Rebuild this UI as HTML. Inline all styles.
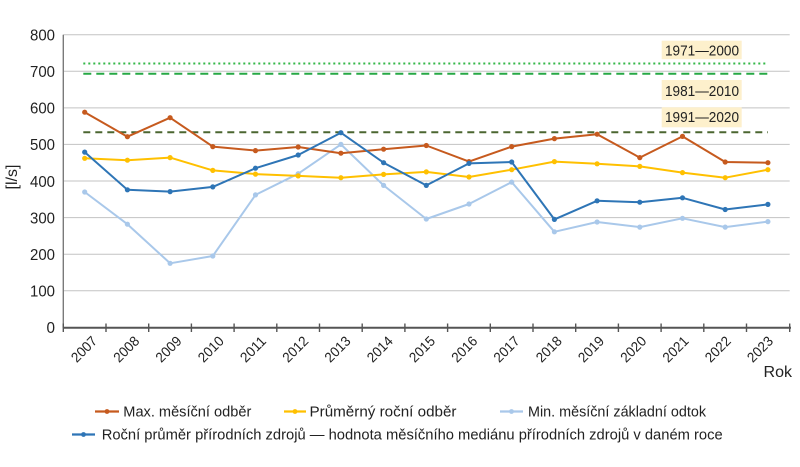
<!DOCTYPE html>
<html><head><meta charset="utf-8"><style>
html,body{margin:0;padding:0;background:#fff;}
svg{display:block;}
text{font-family:"Liberation Sans",sans-serif;fill:#222;}
</style></head><body>
<svg width="800" height="467" viewBox="0 0 800 467" xmlns="http://www.w3.org/2000/svg">
<rect width="800" height="467" fill="#fff"/>
<!-- gridlines -->
<g stroke="#c3c3c3" stroke-width="1">
<line x1="63.3" x2="789.7" y1="34.7" y2="34.7"/>
<line x1="63.3" x2="789.7" y1="71.3" y2="71.3"/>
<line x1="63.3" x2="789.7" y1="107.9" y2="107.9"/>
<line x1="63.3" x2="789.7" y1="144.4" y2="144.4"/>
<line x1="63.3" x2="789.7" y1="181.0" y2="181.0"/>
<line x1="63.3" x2="789.7" y1="217.6" y2="217.6"/>
<line x1="63.3" x2="789.7" y1="254.2" y2="254.2"/>
<line x1="63.3" x2="789.7" y1="290.7" y2="290.7"/>
</g>
<!-- y axis -->
<line x1="63.3" x2="63.3" y1="34.7" y2="328" stroke="#7a7a7a" stroke-width="1.4"/>
<!-- y tick labels -->
<g font-size="16" text-anchor="end">
<text x="55" y="40.5" textLength="25" lengthAdjust="spacingAndGlyphs">800</text>
<text x="55" y="77.1" textLength="25" lengthAdjust="spacingAndGlyphs">700</text>
<text x="55" y="113.7" textLength="25" lengthAdjust="spacingAndGlyphs">600</text>
<text x="55" y="150.2" textLength="25" lengthAdjust="spacingAndGlyphs">500</text>
<text x="55" y="186.8" textLength="25" lengthAdjust="spacingAndGlyphs">400</text>
<text x="55" y="223.4" textLength="25" lengthAdjust="spacingAndGlyphs">300</text>
<text x="55" y="260" textLength="25" lengthAdjust="spacingAndGlyphs">200</text>
<text x="55" y="296.5" textLength="25" lengthAdjust="spacingAndGlyphs">100</text>
<text x="55" y="333.1" textLength="8.5" lengthAdjust="spacingAndGlyphs">0</text>
</g>
<text x="17" y="177" font-size="16" text-anchor="middle" transform="rotate(-90 17 177)">[l/s]</text>
<!-- reference lines -->
<line x1="83.3" x2="768" y1="63.5" y2="63.5" stroke="#34b848" stroke-width="2" stroke-dasharray="2 3"/>
<line x1="83.3" x2="768" y1="73.7" y2="73.7" stroke="#27a845" stroke-width="2" stroke-dasharray="8 5"/>
<line x1="83.3" x2="768" y1="132.3" y2="132.3" stroke="#4b6630" stroke-width="2" stroke-dasharray="7 5"/>
<!-- annotation boxes -->
<rect x="661.7" y="40.7" width="80" height="18.5" fill="#fdf0cc"/>
<text x="665" y="55.5" font-size="15" textLength="74" lengthAdjust="spacingAndGlyphs">1971—2000</text>
<rect x="661.7" y="80" width="80" height="20" fill="#fdf0cc"/>
<text x="665" y="95.8" font-size="15" textLength="74" lengthAdjust="spacingAndGlyphs">1981—2010</text>
<rect x="661.7" y="107.3" width="80" height="20" fill="#fdf0cc"/>
<text x="665" y="122.1" font-size="15" textLength="74" lengthAdjust="spacingAndGlyphs">1991—2020</text>
<!-- series -->
<g fill="none" stroke-width="2" stroke-linejoin="round">
<polyline stroke="#a9c8ea" points="84.7,192.0 127.4,224.2 170.1,263.3 212.8,256.0 255.5,194.9 298.2,173.7 340.9,144.4 383.6,185.4 426.3,219.0 469.0,204.0 511.7,182.1 554.4,231.8 597.1,222.0 639.8,227.1 682.5,218.3 725.2,227.1 767.9,221.6"/>
<polyline stroke="#ffc000" points="84.7,158.3 127.4,160.2 170.1,157.6 212.8,170.4 255.5,174.1 298.2,175.9 340.9,177.7 383.6,174.4 426.3,171.9 469.0,177.0 511.7,169.7 554.4,161.6 597.1,163.8 639.8,166.4 682.5,172.6 725.2,177.7 767.9,169.7"/>
<polyline stroke="#c65a1e" points="84.7,112.2 127.4,136.7 170.1,117.7 212.8,146.6 255.5,150.6 298.2,147.0 340.9,153.2 383.6,149.2 426.3,145.5 469.0,161.6 511.7,146.6 554.4,138.6 597.1,134.2 639.8,157.6 682.5,136.4 725.2,162.0 767.9,162.7"/>
<polyline stroke="#2e75b6" points="84.7,152.1 127.4,189.8 170.1,191.6 212.8,186.9 255.5,168.2 298.2,155.0 340.9,132.7 383.6,162.7 426.3,185.4 469.0,163.4 511.7,162.0 554.4,219.4 597.1,200.8 639.8,202.2 682.5,197.8 725.2,209.5 767.9,204.4"/>
</g>
<g fill="#a9c8ea">
<circle cx="84.7" cy="192.0" r="2.6"/><circle cx="127.4" cy="224.2" r="2.6"/><circle cx="170.1" cy="263.3" r="2.6"/><circle cx="212.8" cy="256.0" r="2.6"/><circle cx="255.5" cy="194.9" r="2.6"/><circle cx="298.2" cy="173.7" r="2.6"/><circle cx="340.9" cy="144.4" r="2.6"/><circle cx="383.6" cy="185.4" r="2.6"/><circle cx="426.3" cy="219.0" r="2.6"/><circle cx="469.0" cy="204.0" r="2.6"/><circle cx="511.7" cy="182.1" r="2.6"/><circle cx="554.4" cy="231.8" r="2.6"/><circle cx="597.1" cy="222.0" r="2.6"/><circle cx="639.8" cy="227.1" r="2.6"/><circle cx="682.5" cy="218.3" r="2.6"/><circle cx="725.2" cy="227.1" r="2.6"/><circle cx="767.9" cy="221.6" r="2.6"/>
</g>
<g fill="#ffc000">
<circle cx="84.7" cy="158.3" r="2.6"/><circle cx="127.4" cy="160.2" r="2.6"/><circle cx="170.1" cy="157.6" r="2.6"/><circle cx="212.8" cy="170.4" r="2.6"/><circle cx="255.5" cy="174.1" r="2.6"/><circle cx="298.2" cy="175.9" r="2.6"/><circle cx="340.9" cy="177.7" r="2.6"/><circle cx="383.6" cy="174.4" r="2.6"/><circle cx="426.3" cy="171.9" r="2.6"/><circle cx="469.0" cy="177.0" r="2.6"/><circle cx="511.7" cy="169.7" r="2.6"/><circle cx="554.4" cy="161.6" r="2.6"/><circle cx="597.1" cy="163.8" r="2.6"/><circle cx="639.8" cy="166.4" r="2.6"/><circle cx="682.5" cy="172.6" r="2.6"/><circle cx="725.2" cy="177.7" r="2.6"/><circle cx="767.9" cy="169.7" r="2.6"/>
</g>
<g fill="#c65a1e">
<circle cx="84.7" cy="112.2" r="2.6"/><circle cx="127.4" cy="136.7" r="2.6"/><circle cx="170.1" cy="117.7" r="2.6"/><circle cx="212.8" cy="146.6" r="2.6"/><circle cx="255.5" cy="150.6" r="2.6"/><circle cx="298.2" cy="147.0" r="2.6"/><circle cx="340.9" cy="153.2" r="2.6"/><circle cx="383.6" cy="149.2" r="2.6"/><circle cx="426.3" cy="145.5" r="2.6"/><circle cx="469.0" cy="161.6" r="2.6"/><circle cx="511.7" cy="146.6" r="2.6"/><circle cx="554.4" cy="138.6" r="2.6"/><circle cx="597.1" cy="134.2" r="2.6"/><circle cx="639.8" cy="157.6" r="2.6"/><circle cx="682.5" cy="136.4" r="2.6"/><circle cx="725.2" cy="162.0" r="2.6"/><circle cx="767.9" cy="162.7" r="2.6"/>
</g>
<g fill="#2e75b6">
<circle cx="84.7" cy="152.1" r="2.6"/><circle cx="127.4" cy="189.8" r="2.6"/><circle cx="170.1" cy="191.6" r="2.6"/><circle cx="212.8" cy="186.9" r="2.6"/><circle cx="255.5" cy="168.2" r="2.6"/><circle cx="298.2" cy="155.0" r="2.6"/><circle cx="340.9" cy="132.7" r="2.6"/><circle cx="383.6" cy="162.7" r="2.6"/><circle cx="426.3" cy="185.4" r="2.6"/><circle cx="469.0" cy="163.4" r="2.6"/><circle cx="511.7" cy="162.0" r="2.6"/><circle cx="554.4" cy="219.4" r="2.6"/><circle cx="597.1" cy="200.8" r="2.6"/><circle cx="639.8" cy="202.2" r="2.6"/><circle cx="682.5" cy="197.8" r="2.6"/><circle cx="725.2" cy="209.5" r="2.6"/><circle cx="767.9" cy="204.4" r="2.6"/>
</g>
<!-- x axis -->
<line x1="63.3" x2="791" y1="327.8" y2="327.8" stroke="#555" stroke-width="2"/>
<g stroke="#555" stroke-width="1.4">
<line x1="63.3" x2="63.3" y1="323.5" y2="332"/>
<line x1="106" x2="106" y1="323.5" y2="332"/>
<line x1="148.7" x2="148.7" y1="323.5" y2="332"/>
<line x1="191.4" x2="191.4" y1="323.5" y2="332"/>
<line x1="234.1" x2="234.1" y1="323.5" y2="332"/>
<line x1="276.8" x2="276.8" y1="323.5" y2="332"/>
<line x1="319.5" x2="319.5" y1="323.5" y2="332"/>
<line x1="362.2" x2="362.2" y1="323.5" y2="332"/>
<line x1="404.9" x2="404.9" y1="323.5" y2="332"/>
<line x1="447.6" x2="447.6" y1="323.5" y2="332"/>
<line x1="490.3" x2="490.3" y1="323.5" y2="332"/>
<line x1="533" x2="533" y1="323.5" y2="332"/>
<line x1="575.7" x2="575.7" y1="323.5" y2="332"/>
<line x1="618.4" x2="618.4" y1="323.5" y2="332"/>
<line x1="661.1" x2="661.1" y1="323.5" y2="332"/>
<line x1="703.8" x2="703.8" y1="323.5" y2="332"/>
<line x1="746.5" x2="746.5" y1="323.5" y2="332"/>
<line x1="789.7" x2="789.7" y1="323.5" y2="332"/>
</g>
<!-- x labels -->
<g font-size="14" text-anchor="end">
<text x="98" y="342" textLength="30" lengthAdjust="spacingAndGlyphs" transform="rotate(-45 98 342)">2007</text>
<text x="140.3" y="342" textLength="30" lengthAdjust="spacingAndGlyphs" transform="rotate(-45 140.3 342)">2008</text>
<text x="182.5" y="342" textLength="30" lengthAdjust="spacingAndGlyphs" transform="rotate(-45 182.5 342)">2009</text>
<text x="224.8" y="342" textLength="30" lengthAdjust="spacingAndGlyphs" transform="rotate(-45 224.8 342)">2010</text>
<text x="267" y="342" textLength="30" lengthAdjust="spacingAndGlyphs" transform="rotate(-45 267 342)">2011</text>
<text x="309.3" y="342" textLength="30" lengthAdjust="spacingAndGlyphs" transform="rotate(-45 309.3 342)">2012</text>
<text x="351.5" y="342" textLength="30" lengthAdjust="spacingAndGlyphs" transform="rotate(-45 351.5 342)">2013</text>
<text x="393.8" y="342" textLength="30" lengthAdjust="spacingAndGlyphs" transform="rotate(-45 393.8 342)">2014</text>
<text x="436" y="342" textLength="30" lengthAdjust="spacingAndGlyphs" transform="rotate(-45 436 342)">2015</text>
<text x="478.3" y="342" textLength="30" lengthAdjust="spacingAndGlyphs" transform="rotate(-45 478.3 342)">2016</text>
<text x="520.5" y="342" textLength="30" lengthAdjust="spacingAndGlyphs" transform="rotate(-45 520.5 342)">2017</text>
<text x="562.8" y="342" textLength="30" lengthAdjust="spacingAndGlyphs" transform="rotate(-45 562.8 342)">2018</text>
<text x="605" y="342" textLength="30" lengthAdjust="spacingAndGlyphs" transform="rotate(-45 605 342)">2019</text>
<text x="647.3" y="342" textLength="30" lengthAdjust="spacingAndGlyphs" transform="rotate(-45 647.3 342)">2020</text>
<text x="689.5" y="342" textLength="30" lengthAdjust="spacingAndGlyphs" transform="rotate(-45 689.5 342)">2021</text>
<text x="731.8" y="342" textLength="30" lengthAdjust="spacingAndGlyphs" transform="rotate(-45 731.8 342)">2022</text>
<text x="774" y="342" textLength="30" lengthAdjust="spacingAndGlyphs" transform="rotate(-45 774 342)">2023</text>
</g>
<text x="792" y="377" font-size="16" text-anchor="end">Rok</text>
<!-- legend -->
<g stroke-width="2.2">
<line x1="95" x2="119" y1="411.5" y2="411.5" stroke="#c65a1e"/>
<line x1="284" x2="306" y1="411.5" y2="411.5" stroke="#ffc000"/>
<line x1="500" x2="523" y1="411.5" y2="411.5" stroke="#a9c8ea"/>
<line x1="72" x2="95" y1="434.5" y2="434.5" stroke="#2e75b6"/>
</g>
<circle cx="107" cy="411.5" r="2.4" fill="#c65a1e"/>
<circle cx="295" cy="411.5" r="2.4" fill="#ffc000"/>
<circle cx="511.5" cy="411.5" r="2.4" fill="#a9c8ea"/>
<circle cx="83.5" cy="434.5" r="2.4" fill="#2e75b6"/>
<g font-size="15">
<text x="123.3" y="416.5" textLength="128" lengthAdjust="spacingAndGlyphs">Max. měsíční odběr</text>
<text x="309.5" y="416.5" textLength="147" lengthAdjust="spacingAndGlyphs">Průměrný roční odběr</text>
<text x="528" y="416.5" textLength="178" lengthAdjust="spacingAndGlyphs">Min. měsíční základní odtok</text>
<text x="101.7" y="439.5" textLength="621" lengthAdjust="spacingAndGlyphs">Roční průměr přírodních zdrojů — hodnota měsíčního mediánu přírodních zdrojů v daném roce</text>
</g>
</svg>
</body></html>
